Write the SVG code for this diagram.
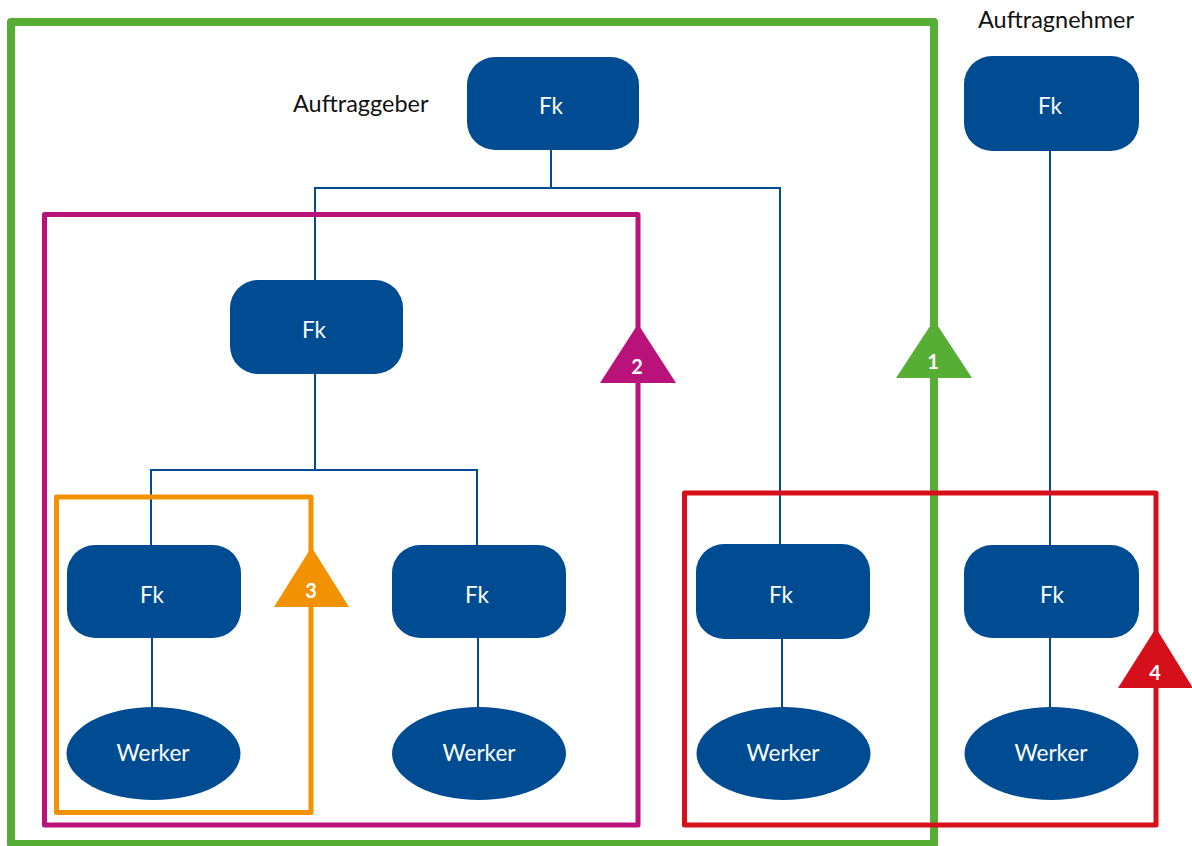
<svg xmlns="http://www.w3.org/2000/svg" width="1192" height="846" viewBox="0 0 1192 846">
<style>
.fk{fill:#004c93}
.wk{fill:#004c93}
.nt{font-family:Lato,"Open Sans","Liberation Sans",sans-serif;font-size:22.5px;fill:#ffffff;text-anchor:middle}
.lbl{font-family:Lato,"Open Sans","Liberation Sans",sans-serif;font-size:23.5px;fill:#111111}
.con{stroke:#004c93;stroke-width:2;fill:none}
.num{font-family:Lato,"Open Sans","Liberation Sans",sans-serif;font-size:20px;font-weight:bold;fill:#ffffff;text-anchor:middle}
</style>
<rect width="1192" height="846" fill="#ffffff"/>
<g id="connectors">
<polyline class="con" points="551,150 551,188 315,188 315,280"/>
<polyline class="con" points="551,188 780,188 780,544"/>
<polyline class="con" points="315,374 315,470 151,470 151,545"/>
<polyline class="con" points="315,470 477,470 477,545"/>
<line class="con" x1="152" y1="638" x2="152" y2="707"/>
<line class="con" x1="478" y1="638" x2="478" y2="707"/>
<line class="con" x1="782" y1="639" x2="782" y2="707"/>
<line class="con" x1="1050" y1="151" x2="1050" y2="545"/>
<line class="con" x1="1050" y1="638" x2="1050" y2="707"/>
</g>
<g id="zones" fill="none" stroke-linejoin="round">
<rect id="zone1" x="11" y="22" width="923" height="822" stroke="#57ae35" stroke-width="8"/>
<rect id="zone2" x="44.5" y="214.5" width="593.5" height="610.5" stroke="#b9127a" stroke-width="5"/>
<rect id="zone3" x="56.5" y="497" width="254.5" height="315.5" stroke="#f39200" stroke-width="5"/>
<rect id="zone4" x="684.5" y="493" width="471.5" height="332" stroke="#d6101a" stroke-width="5"/>
</g>
<g id="labels">
<text class="lbl" x="293" y="112">Auftraggeber</text>
<text class="lbl" x="978" y="28">Auftragnehmer</text>
</g>
<g id="fk-top"><rect class="fk" x="467" y="57" width="172" height="93" rx="28"/><text class="nt" x="551" y="114">Fk</text></g>
<g id="fk-right-top"><rect class="fk" x="964" y="56" width="175" height="95" rx="28"/><text class="nt" x="1050" y="114">Fk</text></g>
<g id="fk-mid"><rect class="fk" x="230" y="280" width="173" height="94" rx="28"/><text class="nt" x="314" y="338">Fk</text></g>
<g id="fk-b1"><rect class="fk" x="67" y="545" width="174" height="93" rx="28"/><text class="nt" x="152" y="603">Fk</text></g>
<g id="fk-b2"><rect class="fk" x="392" y="545" width="174" height="93" rx="28"/><text class="nt" x="477" y="603">Fk</text></g>
<g id="fk-b3"><rect class="fk" x="696" y="544" width="174" height="95" rx="28"/><text class="nt" x="781" y="603">Fk</text></g>
<g id="fk-b4"><rect class="fk" x="964" y="545" width="175" height="93" rx="28"/><text class="nt" x="1052" y="603">Fk</text></g>
<g id="werker1"><ellipse class="wk" cx="153.5" cy="753.5" rx="87" ry="46.5"/><text class="nt" x="153" y="761">Werker</text></g>
<g id="werker2"><ellipse class="wk" cx="479" cy="753.5" rx="87" ry="46.5"/><text class="nt" x="479" y="761">Werker</text></g>
<g id="werker3"><ellipse class="wk" cx="783.5" cy="753.5" rx="87" ry="46.5"/><text class="nt" x="783" y="761">Werker</text></g>
<g id="werker4"><ellipse class="wk" cx="1051.5" cy="753.5" rx="87" ry="46.5"/><text class="nt" x="1051" y="761">Werker</text></g>
<g id="tri1"><polygon points="934,320 972,378 896,378" fill="#57ae35"/><text class="num" x="933" y="369">1</text></g>
<g id="tri2"><polygon points="638,324 676,383 600,383" fill="#b9127a"/><text class="num" x="637" y="374">2</text></g>
<g id="tri3"><polygon points="311.5,547 349,607 274,607" fill="#f39200"/><text class="num" x="311" y="598">3</text></g>
<g id="tri4"><polygon points="1156,628 1193,688 1118,688" fill="#d6101a"/><text class="num" x="1155" y="680">4</text></g>
</svg>
